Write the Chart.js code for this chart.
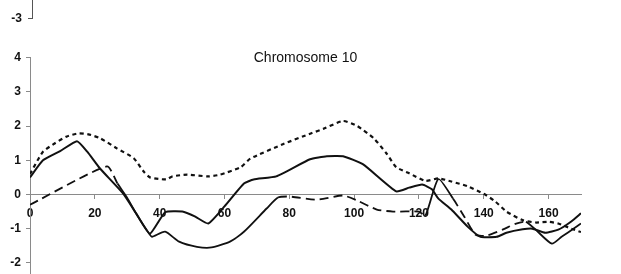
<!DOCTYPE html>
<html>
<head>
<meta charset="utf-8">
<script src="https://cdn.jsdelivr.net/npm/chart.js@4/dist/chart.umd.min.js"></script>
<style>
  html, body { margin: 0; padding: 0; background: #fff; overflow: hidden; }
  #wrap { position: relative; width: 621px; height: 274px; overflow: hidden; background: #fff; }
  #prev { position: absolute; left: 0; top: -38px; }
  #main { position: absolute; left: 0; top: 0; }
</style>
</head>
<body>
<div id="wrap">
  <canvas id="prev" width="621" height="70"></canvas>
  <canvas id="main" width="621" height="310"></canvas>
</div>
<script>
// ---- data ----
const chartTitle = 'Chromosome 10';
const xTickStep = 20;
const yTicks = [4, 3, 2, 1, 0, -1, -2, -3];
const prevChartTicks = [-3];

// Series A (short dashes)
const xA = [0, 4, 7.7, 11.4, 15, 18, 21.6, 26.8, 32, 35, 37, 42, 44, 48.5, 55, 58.6, 65, 68, 78, 87, 90.5, 96.6, 101, 106, 110, 113, 117, 122, 126, 130, 135, 140, 143.5, 147, 152, 156, 160, 163, 167, 170];
const yA = [0.6, 1.25, 1.5, 1.7, 1.79, 1.76, 1.65, 1.35, 1.06, 0.68, 0.5, 0.44, 0.53, 0.58, 0.53, 0.58, 0.8, 1.05, 1.47, 1.8, 1.92, 2.15, 2.0, 1.65, 1.2, 0.8, 0.62, 0.4, 0.47, 0.38, 0.24, 0.02, -0.2, -0.5, -0.75, -0.82, -0.8, -0.85, -1.0, -1.1];

// Series B (solid)
const xB = [0, 4, 9.3, 14.5, 17.6, 21.6, 28.7, 33, 37, 41.7, 47, 51, 55, 60, 66, 69, 76, 86.4, 91.6, 96.6, 102.8, 113, 117, 121, 124, 126, 130, 135, 139, 144, 147, 152, 155, 159, 163, 167, 170];
const yB = [0.5, 1.0, 1.27, 1.56, 1.26, 0.76, 0.03, -0.59, -1.15, -0.52, -0.5, -0.65, -0.85, -0.35, 0.32, 0.44, 0.53, 1.03, 1.12, 1.12, 0.88, 0.09, 0.2, 0.29, 0.15, -0.12, -0.44, -0.94, -1.24, -1.24, -1.12, -1.02, -1.0, -1.12, -1.03, -0.79, -0.55];

// Series C (long dashes)
const xC = [0, 23.7, 27, 30, 33, 37, 37.6, 41.7, 46, 51.5, 56, 61.7, 66, 73, 76.5, 80, 88.5, 96.6, 101, 107, 112, 120, 122, 126, 130.5, 134, 137.5, 141, 146, 150, 153, 156, 161, 164, 168, 170];
const yC = [-0.3, 0.82, 0.32, -0.1, -0.6, -1.18, -1.24, -1.09, -1.38, -1.53, -1.55, -1.38, -1.09, -0.41, -0.09, -0.06, -0.15, -0.03, -0.18, -0.44, -0.5, -0.5, -0.62, 0.45, -0.12, -0.65, -1.18, -1.2, -1.02, -0.85, -0.8, -1.03, -1.44, -1.24, -0.98, -0.85];

// ---- build ----
const toPts = (xs, ys) => xs.map((x, i) => ({ x: x, y: ys[i] }));
const FONT = 'Liberation Sans, Arial, Helvetica, sans-serif';
const INK = '#111';
const AXIS = '#8a8a8a';

// Parts of series C that read as continuous strokes in the scan
const cSolidRanges = [[27, 76], [121, 127], [151, 171]];
const inSolid = x => cSolidRanges.some(r => x >= r[0] && x < r[1]);

new Chart(document.getElementById('main'), {
  type: 'line',
  data: {
    datasets: [
      { label: 'A', data: toPts(xA, yA), borderColor: INK, borderWidth: 2.2, borderDash: [4, 3.5], pointRadius: 0, tension: 0.2, fill: false },
      { label: 'B', data: toPts(xB, yB), borderColor: INK, borderWidth: 2, pointRadius: 0, tension: 0.15, fill: false },
      { label: 'C', data: toPts(xC, yC), borderColor: INK, borderWidth: 1.8, borderDash: [9, 5], pointRadius: 0, tension: 0.2, fill: false,
        segment: { borderDash: ctx => inSolid(ctx.p0.parsed.x) ? [] : undefined } }
    ]
  },
  options: {
    responsive: false,
    animation: false,
    events: [],
    layout: { padding: { left: 0, right: 40, top: 0, bottom: 13 } },
    plugins: {
      legend: { display: false },
      tooltip: { enabled: false },
      title: {
        display: true, text: chartTitle, fullSize: false,
        color: INK, font: { family: FONT, size: 14, weight: 'normal' },
        padding: { top: 50, bottom: -9 }
      }
    },
    scales: {
      x: {
        type: 'linear', min: 0, max: 170,
        position: { y: 0 },
        border: { display: true, color: AXIS, width: 1 },
        grid: { drawOnChartArea: false, drawTicks: true, tickLength: 4, color: AXIS },
        ticks: { stepSize: xTickStep, includeBounds: false, maxRotation: 0, padding: 8, color: INK, font: { family: FONT, size: 12, weight: 'bold' } }
      },
      y: {
        type: 'linear', min: -3, max: 4,
        position: 'left',
        afterFit: s => { s.width = 30; },
        afterBuildTicks: s => { s.ticks = yTicks.map(v => ({ value: v })); },
        border: { display: true, color: AXIS, width: 1, dash: [4, 2] },
        grid: { drawOnChartArea: false, drawTicks: true, tickLength: 4, color: AXIS },
        ticks: { padding: 5, color: INK, font: { family: FONT, size: 12, weight: 'bold' } }
      }
    }
  }
});

// bottom end of the previous panel's y axis (cut at the top of the picture)
new Chart(document.getElementById('prev'), {
  type: 'line',
  data: { datasets: [] },
  options: {
    responsive: false,
    animation: false,
    events: [],
    layout: { padding: { left: 0, right: 40, top: 0, bottom: 10 } },
    plugins: { legend: { display: false }, tooltip: { enabled: false }, title: { display: false } },
    scales: {
      x: { type: 'linear', min: 0, max: 170, display: false },
      y: {
        type: 'linear', min: -3, max: -2,
        position: 'left',
        afterFit: s => { s.width = 32; },
        afterBuildTicks: s => { s.ticks = prevChartTicks.map(v => ({ value: v })); },
        border: { display: true, color: '#555', width: 1 },
        grid: { drawOnChartArea: false, drawTicks: true, tickLength: 4, color: '#555' },
        ticks: { padding: 6, color: INK, font: { family: FONT, size: 12, weight: 'bold' } }
      }
    }
  }
});
</script>
</body>
</html>
